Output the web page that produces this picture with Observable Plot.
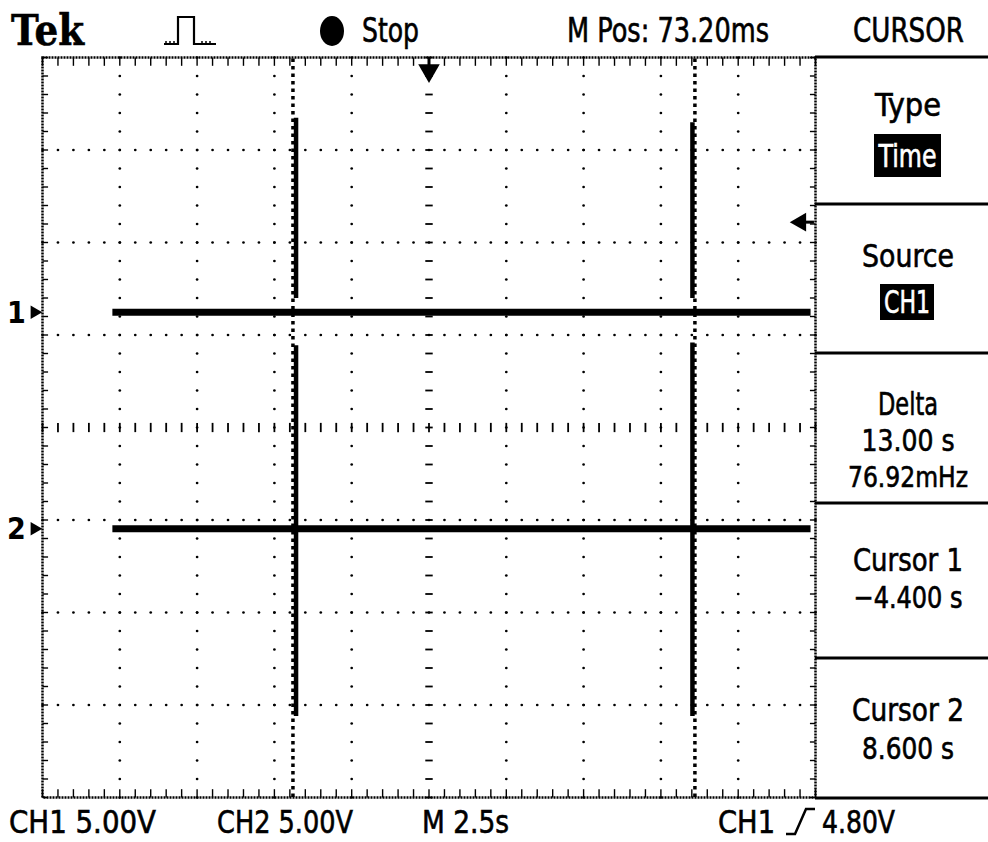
<!DOCTYPE html>
<html>
<head>
<meta charset="utf-8">
<script src="https://cdn.jsdelivr.net/npm/d3@7"></script>
<script src="https://cdn.jsdelivr.net/npm/@observablehq/plot@0.6"></script>
<style>
  html, body { margin: 0; padding: 0; background: #fff; }
  #wrap { position: relative; width: 988px; height: 842px; overflow: hidden; background: #fff; }
  #wrap > svg { position: absolute; left: 0; top: 0; }
  #overlay { pointer-events: none; }
  .lbl { font-family: "DejaVu Sans Condensed", "DejaVu Sans", sans-serif; font-stretch: condensed; fill: #000; }
</style>
</head>
<body>
<div id="wrap"></div>
<script>
// ---------------- data ----------------
// time axis: seconds (2.5 s/div, 10 div), vertical: divisions (8 div)
const timeDomain = [-12.5, 12.5];
const divDomain = [-4, 4];
const xMajor = [-10, -7.5, -5, -2.5, 2.5, 5, 7.5, 10];
const yMajor = [-3, -2, -1, 1, 2, 3];

// channel ground levels (divisions) and trace extents (seconds)
const chLabels = ["1", "2"];
const chLevels = [1.246, -1.095];
const traceStart = [-10.24, -10.24];
const traceEnd = [12.34, 12.34];

// vertical spikes in the record (time s, top div, bottom div)
const spikeTimes = [-4.30, -4.30, 8.52, 8.52];
const spikeTops = [3.35, 0.89, 3.30, 0.92];
const spikeBottoms = [1.40, -3.12, 1.40, -3.12];

// cursors (s)
const cursorTimes = [-4.4, 8.6];
// trigger position (s) and trigger level (div)
const triggerTime = 0;
const triggerLevel = 2.22;

// text
const headerTexts = ["Tek", "Stop", "M Pos: 73.20ms", "CURSOR"];
const footerTexts = ["CH1 5.00V", "CH2 5.00V", "M 2.5s", "CH1", "4.80V"];
const menuTitles = ["Type", "Source", "Delta", "Cursor 1", "Cursor 2"];
const menuValues = [["Time"], ["CH1"], ["13.00 s", "76.92mHz"], ["−4.400 s"], ["8.600 s"]];
const menuHighlighted = [true, true, false, false, false];

// ---------------- derived tables ----------------
const vGridDots = xMajor.flatMap(x => d3.range(-4, 4.0001, 0.2).map(y => ({x, y})));
const hGridDots = yMajor.flatMap(y => d3.range(-12.5, 12.5001, 0.5).map(x => ({x, y})));
const xMinor = d3.range(-12.5, 12.5001, 0.5);
const yMinor = d3.range(-4, 4.0001, 0.2);

const traces = chLabels.flatMap((c, i) => [
  {ch: c, t: traceStart[i], v: chLevels[i]},
  {ch: c, t: traceEnd[i], v: chLevels[i]}
]);
const spikes = spikeTimes.map((t, i) => ({t, top: spikeTops[i], bottom: spikeBottoms[i]}));
const chMarks = chLabels.map((c, i) => ({ch: c, v: chLevels[i]}));

// ---------------- plot ----------------
const plot = Plot.plot({
  width: 988,
  height: 842,
  marginLeft: 42,
  marginRight: 173,
  marginTop: 57,
  marginBottom: 45,
  x: {domain: timeDomain, axis: null},
  y: {domain: divDomain, axis: null},
  style: {background: "white", overflow: "visible"},
  marks: [
    // dotted graticule
    Plot.dot(vGridDots, {x: "x", y: "y", r: 1.35, fill: "black", stroke: null}),
    Plot.dot(hGridDots, {x: "x", y: "y", r: 1.35, fill: "black", stroke: null}),
    // centre lines with minor ticks
    Plot.link(yMinor, {x1: -0.12, x2: 0.12, y1: d => d, y2: d => d, stroke: "black", strokeWidth: 1.8}),
    Plot.link(xMinor, {x1: d => d, x2: d => d, y1: -0.05, y2: 0.05, stroke: "black", strokeWidth: 1.8}),
    // border minor ticks
    Plot.link(xMinor, {x1: d => d, x2: d => d, y1: 4, y2: 3.91, stroke: "black", strokeWidth: 1.4}),
    Plot.link(xMinor, {x1: d => d, x2: d => d, y1: -4, y2: -3.91, stroke: "black", strokeWidth: 1.4}),
    Plot.link(yMinor, {x1: -12.5, x2: -12.32, y1: d => d, y2: d => d, stroke: "black", strokeWidth: 1.4}),
    Plot.link(yMinor, {x1: 12.5, x2: 12.32, y1: d => d, y2: d => d, stroke: "black", strokeWidth: 1.4}),
    Plot.frame({stroke: "black", strokeWidth: 2.5, strokeDasharray: "2,1"}),
    // cursors
    Plot.ruleX(cursorTimes, {y1: -4, y2: 4, stroke: "black", strokeWidth: 3.5, strokeDasharray: "3.5,4"}),
    // spikes
    Plot.link(spikes, {x1: "t", x2: "t", y1: "top", y2: "bottom", stroke: "black", strokeWidth: 4.5}),
    // traces
    Plot.line(traces, {x: "t", y: "v", z: "ch", stroke: "black", strokeWidth: 7, strokeLinecap: "butt"}),
    // trigger position marker (top)
    Plot.link([triggerTime], {x1: d => d, x2: d => d, y1: 4, y2: 3.9, stroke: "black", strokeWidth: 3}),
    Plot.dot([triggerTime], {x: d => d, y: 3.86, symbol: "triangle", r: 8, rotate: 180, fill: "black", stroke: null}),
    // trigger level marker (right)
    Plot.dot([triggerLevel], {x: 12.02, y: d => d, symbol: "triangle", r: 7, rotate: -90, fill: "black", stroke: null}),
    Plot.link([triggerLevel], {x1: 12.1, x2: 12.45, y1: d => d, y2: d => d, stroke: "black", strokeWidth: 3}),
    // channel ground markers
    Plot.text(chMarks, {x: -12.5, y: "v", text: "ch", dx: -26, dy: 1, fontSize: 30, fontWeight: "bold",
      fontFamily: "DejaVu Sans Condensed, DejaVu Sans, sans-serif", textAnchor: "middle", fill: "black"}),
    Plot.dot(chMarks, {x: -12.5, y: "v", dx: -8, symbol: "triangle", r: 5, rotate: 90, fill: "black", stroke: null}),
    Plot.link(chMarks, {x1: -12.5, x2: -12.5, y1: "v", y2: "v", stroke: "black", strokeWidth: 2, dx: -14})
  ]
});
document.getElementById("wrap").appendChild(plot);

// ---------------- overlay text (header, footer, menu) ----------------
const svg = d3.select("#wrap").append("svg")
  .attr("id", "overlay").attr("width", 988).attr("height", 842);

function label(text, x, y, w, size, anchor = "start", fill = "#000", extra = {}) {
  const t = svg.append("text").attr("class", "lbl")
    .attr("x", x).attr("y", y)
    .attr("font-size", size)
    .attr("text-anchor", anchor)
    .attr("textLength", w)
    .attr("lengthAdjust", "spacingAndGlyphs")
    .style("fill", fill)
    .style("stroke", fill)
    .style("stroke-width", 0.6)
    .text(text);
  for (const k in extra) t.style(k, extra[k]);
  return t;
}

// header
const headerLayout = [
  {x: 11, y: 45, w: 73, size: 42},
  {x: 362, y: 42, w: 57, size: 33},
  {x: 567, y: 42, w: 202, size: 33},
  {x: 853, y: 42, w: 111, size: 33}
];
headerTexts.forEach((s, i) => {
  const L = headerLayout[i];
  const extra = i === 0 ? {"font-family": "'DejaVu Serif', 'Liberation Serif', serif", "font-weight": "bold", "font-stretch": "normal"} : {};
  label(s, L.x, L.y, L.w, L.size, "start", "#000", extra);
});
// pulse icon
svg.append("path")
  .attr("d", "M164,44 H178 V17 H183 M181,17 H194 V44 H216")
  .attr("fill", "none").attr("stroke", "#000").attr("stroke-width", 2.2);
svg.append("path")
  .attr("d", "M166,41 V44 M170,41 V44 M174,41 V44 M202,41 V44 M206,41 V44 M210,41 V44")
  .attr("fill", "none").attr("stroke", "#000").attr("stroke-width", 1.5);
// stop dot
svg.append("ellipse").attr("cx", 332).attr("cy", 31).attr("rx", 12).attr("ry", 15).attr("fill", "#000");

// footer
const footerLayout = [
  {x: 9, w: 147}, {x: 217, w: 136}, {x: 422, w: 87}, {x: 718, w: 57}, {x: 822, w: 73}
];
footerTexts.forEach((s, i) => label(s, footerLayout[i].x, 833, footerLayout[i].w, 32));
// trigger slope symbol
svg.append("path").attr("d", "M786,834 H795 L806,809 H815")
  .attr("fill", "none").attr("stroke", "#000").attr("stroke-width", 2.5);

// right menu
const dividerYs = [57, 204, 353, 503, 658, 798];
dividerYs.forEach(y => svg.append("line")
  .attr("x1", 815).attr("x2", 988).attr("y1", y).attr("y2", y)
  .attr("stroke", "#000").attr("stroke-width", 3));
const titleBase = [116, 267, 415, 571, 721];
const titleW = [66, 92, 60, 110, 112];
const valueBase = [[167], [313], [451, 487], [608], [759]];
const valueW = [[58], [46], [93, 120], [109], [92]];
const valueSize = [[32], [32], [31, 28], [31], [31]];
const boxes = [{x: 874, y: 134, w: 67, h: 43}, {x: 880, y: 284, w: 54, h: 36}];
menuTitles.forEach((s, i) => {
  label(s, 908, titleBase[i], titleW[i], 32, "middle");
  menuValues[i].forEach((v, j) => {
    if (menuHighlighted[i]) {
      const b = boxes[i];
      svg.append("rect").attr("x", b.x).attr("y", b.y).attr("width", b.w).attr("height", b.h).attr("fill", "#000");
      label(v, b.x + b.w / 2, valueBase[i][j], valueW[i][j], valueSize[i][j], "middle", "#fff");
    } else {
      label(v, 908, valueBase[i][j], valueW[i][j], valueSize[i][j], "middle");
    }
  });
});
</script>
</body>
</html>
